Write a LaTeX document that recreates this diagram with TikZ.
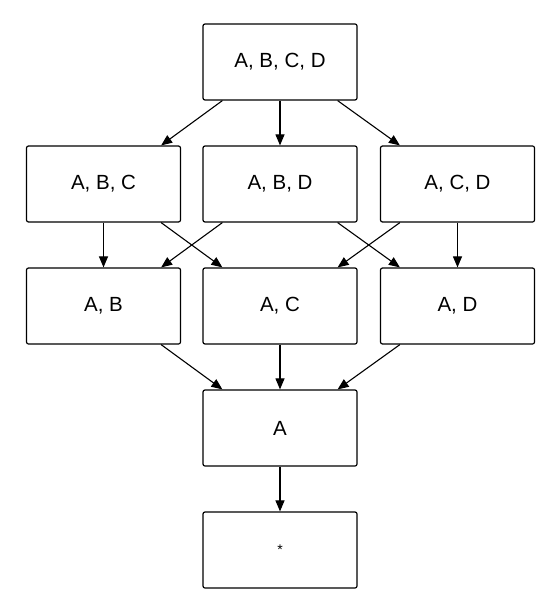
\documentclass[tikz,border=0pt]{standalone}
\usepackage{fontspec}
\setmainfont{Liberation Sans}
\usetikzlibrary{arrows.meta}

\begin{document}
\begin{tikzpicture}[x=1pt,y=-1pt]
\tikzstyle{box}=[draw,rounded corners=2pt,line width=1.2pt,minimum width=154pt,minimum height=76pt,inner sep=0pt,font=\fontsize{20.5}{24}\selectfont]
\tikzstyle{link}=[-{Triangle[length=11pt,width=9pt]},line width=1.1pt]
\useasboundingbox (0,0) rectangle (546,615);
\node[box] (ABCD) at (280,62) {A, B, C, D};
\node[box] (ABC) at (103.5,184) {A, B, C};
\node[box] (ABD) at (280,184) {A, B, D};
\node[box] (ACD) at (457.5,184) {A, C, D};
\node[box] (AB) at (103.5,306) {A, B};
\node[box] (AC) at (280,306) {A, C};
\node[box] (AD) at (457.5,306) {A, D};
\node[box] (A) at (280,428) {A};
\node[box,font=\fontsize{14}{16}\selectfont] (star) at (280,550) {*};
\draw[link] ([xshift=20pt]ABCD.south west) -- ([xshift=-20pt]ABC.north east);
\draw[link] (ABCD.south) -- (ABD.north);
\draw[link] ([xshift=-20pt]ABCD.south east) -- ([xshift=20pt]ACD.north west);
\draw[link] (ABC.south) -- (AB.north);
\draw[link] ([xshift=-20pt]ABC.south east) -- ([xshift=20pt]AC.north west);
\draw[link] ([xshift=20pt]ABD.south west) -- ([xshift=-20pt]AB.north east);
\draw[link] ([xshift=-20pt]ABD.south east) -- ([xshift=20pt]AD.north west);
\draw[link] ([xshift=20pt]ACD.south west) -- ([xshift=-20pt]AC.north east);
\draw[link] (ACD.south) -- (AD.north);
\draw[link] ([xshift=-20pt]AB.south east) -- ([xshift=20pt]A.north west);
\draw[link] (AC.south) -- (A.north);
\draw[link] ([xshift=20pt]AD.south west) -- ([xshift=-20pt]A.north east);
\draw[link] (A.south) -- (star.north);
\end{tikzpicture}
\end{document}
